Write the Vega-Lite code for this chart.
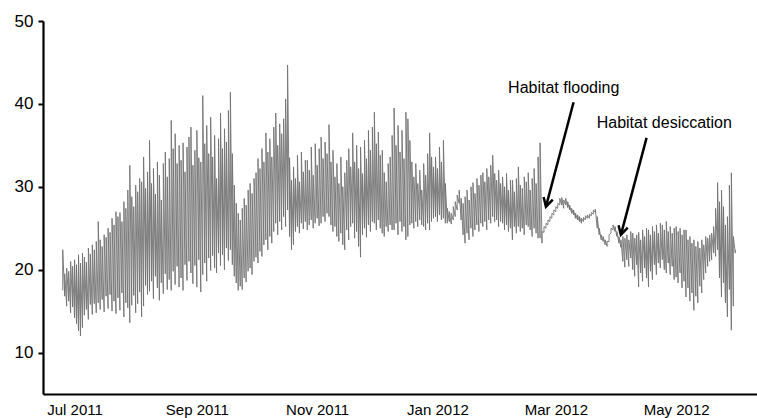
{
  "$schema": "https://vega.github.io/schema/vega-lite/v6.json",
  "width": 714,
  "height": 373,
  "autosize": "none",
  "padding": {"left": 43, "top": 21, "right": 0, "bottom": 24},
  "config": {
    "font": "Liberation Sans",
    "view": {"stroke": null},
    "axis": {"grid": false, "title": null, "labelColor": "#000", "labelFontSize": 15, "domainColor": "#000", "domainWidth": 2.2, "tickColor": "#000", "tickWidth": 2}
  },
  "datasets": {
    "temp": [
      {"d":"2011-06-25","a":17.5,"b":22.4},{"d":"2011-06-26","a":16.8,"b":19.5},{"d":"2011-06-27","a":15.6,"b":20.2},{"d":"2011-06-28","a":16.2,"b":19.8},{"d":"2011-06-29","a":14.8,"b":21.0},{"d":"2011-06-30","a":15.5,"b":20.4},
      {"d":"2011-07-01","a":14.2,"b":21.2},{"d":"2011-07-02","a":13.5,"b":20.6},{"d":"2011-07-03","a":12.6,"b":21.8},{"d":"2011-07-04","a":12.0,"b":20.8},{"d":"2011-07-05","a":13.0,"b":22.0},{"d":"2011-07-06","a":14.5,"b":21.5},{"d":"2011-07-07","a":15.2,"b":20.9},{"d":"2011-07-08","a":14.0,"b":22.6},{"d":"2011-07-09","a":15.8,"b":21.9},{"d":"2011-07-10","a":14.6,"b":23.0},
      {"d":"2011-07-11","a":15.9,"b":22.4},{"d":"2011-07-12","a":14.8,"b":23.4},{"d":"2011-07-13","a":16.0,"b":25.8},{"d":"2011-07-14","a":15.2,"b":23.6},{"d":"2011-07-15","a":16.4,"b":22.8},{"d":"2011-07-16","a":14.9,"b":24.2},{"d":"2011-07-17","a":16.8,"b":23.9},{"d":"2011-07-18","a":15.3,"b":25.0},{"d":"2011-07-19","a":17.0,"b":24.5},{"d":"2011-07-20","a":15.0,"b":26.2},
      {"d":"2011-07-21","a":16.2,"b":25.4},{"d":"2011-07-22","a":14.7,"b":27.0},{"d":"2011-07-23","a":16.6,"b":26.4},{"d":"2011-07-24","a":15.1,"b":26.9},{"d":"2011-07-25","a":17.2,"b":25.8},{"d":"2011-07-26","a":14.3,"b":28.2},{"d":"2011-07-27","a":16.0,"b":27.4},{"d":"2011-07-28","a":15.4,"b":29.6},{"d":"2011-07-29","a":13.6,"b":32.6},{"d":"2011-07-30","a":15.7,"b":28.8},{"d":"2011-07-31","a":16.9,"b":27.6},
      {"d":"2011-08-01","a":14.8,"b":30.2},{"d":"2011-08-02","a":15.9,"b":29.4},{"d":"2011-08-03","a":17.3,"b":31.0},{"d":"2011-08-04","a":14.3,"b":30.6},{"d":"2011-08-05","a":15.6,"b":33.6},{"d":"2011-08-06","a":18.1,"b":29.8},{"d":"2011-08-07","a":17.0,"b":31.8},{"d":"2011-08-08","a":17.4,"b":35.6},{"d":"2011-08-09","a":18.6,"b":30.4},{"d":"2011-08-10","a":16.5,"b":32.2},
      {"d":"2011-08-11","a":19.2,"b":29.1},{"d":"2011-08-12","a":17.8,"b":33.0},{"d":"2011-08-13","a":16.3,"b":31.4},{"d":"2011-08-14","a":18.4,"b":28.4},{"d":"2011-08-15","a":17.1,"b":32.8},{"d":"2011-08-16","a":19.5,"b":34.2},{"d":"2011-08-17","a":17.6,"b":31.2},{"d":"2011-08-18","a":18.8,"b":33.4},{"d":"2011-08-19","a":17.5,"b":38.0},{"d":"2011-08-20","a":19.8,"b":34.6},
      {"d":"2011-08-21","a":18.2,"b":36.4},{"d":"2011-08-22","a":20.4,"b":32.8},{"d":"2011-08-23","a":17.9,"b":35.0},{"d":"2011-08-24","a":19.0,"b":33.2},{"d":"2011-08-25","a":17.5,"b":35.3},{"d":"2011-08-26","a":20.6,"b":31.8},{"d":"2011-08-27","a":18.7,"b":34.8},{"d":"2011-08-28","a":21.0,"b":36.0},{"d":"2011-08-29","a":19.6,"b":37.2},{"d":"2011-08-30","a":18.3,"b":32.6},{"d":"2011-08-31","a":20.5,"b":34.4},
      {"d":"2011-09-01","a":17.9,"b":36.8},{"d":"2011-09-02","a":21.2,"b":33.5},{"d":"2011-09-03","a":17.3,"b":33.0},{"d":"2011-09-04","a":19.4,"b":41.0},{"d":"2011-09-05","a":20.8,"b":35.2},{"d":"2011-09-06","a":18.6,"b":37.4},{"d":"2011-09-07","a":21.4,"b":34.0},{"d":"2011-09-08","a":19.9,"b":38.4},{"d":"2011-09-09","a":21.7,"b":33.6},{"d":"2011-09-10","a":20.2,"b":36.2},
      {"d":"2011-09-11","a":19.6,"b":31.0},{"d":"2011-09-12","a":22.0,"b":35.8},{"d":"2011-09-13","a":20.5,"b":38.9},{"d":"2011-09-14","a":21.8,"b":34.6},{"d":"2011-09-15","a":20.0,"b":37.0},{"d":"2011-09-16","a":22.6,"b":35.4},{"d":"2011-09-17","a":21.1,"b":39.2},{"d":"2011-09-18","a":22.4,"b":41.4},{"d":"2011-09-19","a":20.6,"b":34.0},{"d":"2011-09-20","a":19.2,"b":30.2},
      {"d":"2011-09-21","a":18.4,"b":28.0},{"d":"2011-09-22","a":17.5,"b":26.8},{"d":"2011-09-23","a":18.0,"b":26.0},{"d":"2011-09-24","a":17.6,"b":27.4},{"d":"2011-09-25","a":19.0,"b":28.6},{"d":"2011-09-26","a":18.5,"b":27.8},{"d":"2011-09-27","a":19.8,"b":29.6},{"d":"2011-09-28","a":20.2,"b":30.4},{"d":"2011-09-29","a":19.4,"b":29.2},{"d":"2011-09-30","a":21.0,"b":31.0},
      {"d":"2011-10-01","a":21.5,"b":31.7},{"d":"2011-10-02","a":20.8,"b":33.4},{"d":"2011-10-03","a":22.2,"b":32.2},{"d":"2011-10-04","a":21.6,"b":34.6},{"d":"2011-10-05","a":23.0,"b":33.0},{"d":"2011-10-06","a":23.6,"b":36.5},{"d":"2011-10-07","a":22.4,"b":34.2},{"d":"2011-10-08","a":24.0,"b":35.8},{"d":"2011-10-09","a":23.2,"b":33.6},{"d":"2011-10-10","a":24.6,"b":37.2},
      {"d":"2011-10-11","a":25.6,"b":38.9},{"d":"2011-10-12","a":24.2,"b":35.0},{"d":"2011-10-13","a":25.8,"b":37.6},{"d":"2011-10-14","a":24.8,"b":36.4},{"d":"2011-10-15","a":26.4,"b":38.2},{"d":"2011-10-16","a":25.2,"b":40.6},{"d":"2011-10-17","a":27.2,"b":44.7},{"d":"2011-10-18","a":24.0,"b":33.5},{"d":"2011-10-19","a":22.4,"b":30.8},{"d":"2011-10-20","a":23.0,"b":32.4},
      {"d":"2011-10-21","a":24.6,"b":31.0},{"d":"2011-10-22","a":25.2,"b":33.8},{"d":"2011-10-23","a":24.4,"b":30.6},{"d":"2011-10-24","a":25.6,"b":34.2},{"d":"2011-10-25","a":24.9,"b":31.8},{"d":"2011-10-26","a":25.8,"b":33.2},{"d":"2011-10-27","a":24.8,"b":33.2},{"d":"2011-10-28","a":25.4,"b":32.0},{"d":"2011-10-29","a":26.0,"b":34.8},{"d":"2011-10-30","a":25.0,"b":31.4},{"d":"2011-10-31","a":25.6,"b":35.2},
      {"d":"2011-11-01","a":26.2,"b":32.6},{"d":"2011-11-02","a":25.3,"b":34.6},{"d":"2011-11-03","a":25.6,"b":36.0},{"d":"2011-11-04","a":26.4,"b":33.4},{"d":"2011-11-05","a":25.8,"b":35.4},{"d":"2011-11-06","a":26.8,"b":34.0},{"d":"2011-11-07","a":26.4,"b":37.5},{"d":"2011-11-08","a":25.4,"b":33.0},{"d":"2011-11-09","a":24.6,"b":34.4},{"d":"2011-11-10","a":25.2,"b":31.2},
      {"d":"2011-11-11","a":24.0,"b":32.8},{"d":"2011-11-12","a":23.4,"b":30.4},{"d":"2011-11-13","a":24.4,"b":33.6},{"d":"2011-11-14","a":23.0,"b":30.0},{"d":"2011-11-15","a":22.4,"b":31.7},{"d":"2011-11-16","a":24.8,"b":33.2},{"d":"2011-11-17","a":23.6,"b":34.6},{"d":"2011-11-18","a":25.2,"b":32.4},{"d":"2011-11-19","a":25.6,"b":36.5},{"d":"2011-11-20","a":23.8,"b":33.0},
      {"d":"2011-11-21","a":24.6,"b":35.0},{"d":"2011-11-22","a":22.8,"b":32.2},{"d":"2011-11-23","a":21.5,"b":34.8},{"d":"2011-11-24","a":24.2,"b":31.6},{"d":"2011-11-25","a":25.0,"b":35.6},{"d":"2011-11-26","a":23.9,"b":33.4},{"d":"2011-11-27","a":25.4,"b":36.8},{"d":"2011-11-28","a":24.6,"b":34.4},{"d":"2011-11-29","a":25.8,"b":37.2},{"d":"2011-11-30","a":25.6,"b":39.0},
      {"d":"2011-12-01","a":24.8,"b":35.2},{"d":"2011-12-02","a":26.0,"b":36.6},{"d":"2011-12-03","a":25.0,"b":33.8},{"d":"2011-12-04","a":24.4,"b":34.4},{"d":"2011-12-05","a":24.0,"b":31.7},{"d":"2011-12-06","a":25.2,"b":30.6},{"d":"2011-12-07","a":24.6,"b":32.8},{"d":"2011-12-08","a":25.4,"b":33.6},{"d":"2011-12-09","a":24.8,"b":36.2},{"d":"2011-12-10","a":24.8,"b":39.5},
      {"d":"2011-12-11","a":25.6,"b":35.0},{"d":"2011-12-12","a":24.2,"b":37.4},{"d":"2011-12-13","a":25.8,"b":34.2},{"d":"2011-12-14","a":24.6,"b":36.8},{"d":"2011-12-15","a":25.2,"b":33.4},{"d":"2011-12-16","a":23.6,"b":39.0},{"d":"2011-12-17","a":24.0,"b":38.2},{"d":"2011-12-18","a":25.4,"b":35.6},{"d":"2011-12-19","a":25.6,"b":33.0},{"d":"2011-12-20","a":25.0,"b":31.2},
      {"d":"2011-12-21","a":25.8,"b":32.8},{"d":"2011-12-22","a":25.2,"b":30.4},{"d":"2011-12-23","a":26.0,"b":32.0},{"d":"2011-12-24","a":25.4,"b":29.6},{"d":"2011-12-25","a":25.2,"b":32.8},{"d":"2011-12-26","a":24.8,"b":31.4},{"d":"2011-12-27","a":25.6,"b":34.0},{"d":"2011-12-28","a":24.8,"b":36.5},{"d":"2011-12-29","a":25.8,"b":33.6},{"d":"2011-12-30","a":26.2,"b":32.4},{"d":"2011-12-31","a":26.4,"b":33.6},
      {"d":"2012-01-01","a":25.8,"b":32.2},{"d":"2012-01-02","a":26.6,"b":34.8},{"d":"2012-01-03","a":26.0,"b":33.0},{"d":"2012-01-04","a":26.2,"b":35.6},{"d":"2012-01-05","a":25.6,"b":30.4},{"d":"2012-01-06","a":25.6,"b":27.4},{"d":"2012-01-07","a":25.8,"b":27.0},{"d":"2012-01-08","a":25.5,"b":26.8},{"d":"2012-01-09","a":26.0,"b":27.6},{"d":"2012-01-10","a":26.4,"b":28.2},
      {"d":"2012-01-11","a":27.2,"b":29.0},{"d":"2012-01-12","a":28.0,"b":29.6},{"d":"2012-01-13","a":26.0,"b":28.6},{"d":"2012-01-14","a":24.2,"b":28.0},{"d":"2012-01-15","a":23.2,"b":28.8},{"d":"2012-01-16","a":24.4,"b":29.6},{"d":"2012-01-17","a":23.6,"b":28.4},{"d":"2012-01-18","a":25.0,"b":30.0},{"d":"2012-01-19","a":24.0,"b":30.5},{"d":"2012-01-20","a":24.8,"b":29.2},
      {"d":"2012-01-21","a":25.4,"b":31.0},{"d":"2012-01-22","a":24.6,"b":30.2},{"d":"2012-01-23","a":25.6,"b":31.4},{"d":"2012-01-24","a":25.2,"b":31.7},{"d":"2012-01-25","a":25.8,"b":30.6},{"d":"2012-01-26","a":24.8,"b":32.2},{"d":"2012-01-27","a":26.0,"b":31.2},{"d":"2012-01-28","a":25.6,"b":32.6},{"d":"2012-01-29","a":26.4,"b":33.8},{"d":"2012-01-30","a":25.8,"b":31.6},{"d":"2012-01-31","a":26.0,"b":30.8},
      {"d":"2012-02-01","a":25.2,"b":32.0},{"d":"2012-02-02","a":25.8,"b":30.4},{"d":"2012-02-03","a":25.6,"b":31.2},{"d":"2012-02-04","a":24.8,"b":30.0},{"d":"2012-02-05","a":25.4,"b":31.6},{"d":"2012-02-06","a":24.6,"b":29.6},{"d":"2012-02-07","a":25.0,"b":30.8},{"d":"2012-02-08","a":23.6,"b":30.8},{"d":"2012-02-09","a":25.2,"b":29.4},{"d":"2012-02-10","a":24.4,"b":31.0},
      {"d":"2012-02-11","a":25.2,"b":32.4},{"d":"2012-02-12","a":24.6,"b":30.2},{"d":"2012-02-13","a":25.0,"b":29.8},{"d":"2012-02-14","a":24.2,"b":31.2},{"d":"2012-02-15","a":25.4,"b":30.6},{"d":"2012-02-16","a":25.2,"b":31.7},{"d":"2012-02-17","a":24.8,"b":29.6},{"d":"2012-02-18","a":24.0,"b":31.0},{"d":"2012-02-19","a":25.0,"b":32.2},{"d":"2012-02-20","a":24.4,"b":30.4},
      {"d":"2012-02-21","a":23.8,"b":33.6},{"d":"2012-02-22","a":23.8,"b":35.3},{"d":"2012-02-23","a":23.2,"b":24.6},{"d":"2012-02-24","a":24.5,"b":25.2},{"d":"2012-02-25","a":25.0,"b":25.6},{"d":"2012-02-26","a":25.4,"b":26.0},{"d":"2012-02-27","a":25.8,"b":26.4},{"d":"2012-02-28","a":26.2,"b":26.8},{"d":"2012-02-29","a":26.6,"b":27.2},
      {"d":"2012-03-01","a":27.0,"b":27.6},{"d":"2012-03-02","a":27.4,"b":28.0},{"d":"2012-03-03","a":27.8,"b":28.6},{"d":"2012-03-04","a":27.8,"b":28.7},{"d":"2012-03-05","a":27.4,"b":28.4},{"d":"2012-03-06","a":27.8,"b":28.6},{"d":"2012-03-07","a":27.5,"b":28.2},{"d":"2012-03-08","a":27.2,"b":27.8},{"d":"2012-03-09","a":26.8,"b":27.4},{"d":"2012-03-10","a":26.6,"b":27.2},
      {"d":"2012-03-11","a":26.2,"b":26.8},{"d":"2012-03-12","a":26.0,"b":26.6},{"d":"2012-03-13","a":25.8,"b":26.4},{"d":"2012-03-14","a":25.6,"b":26.2},{"d":"2012-03-15","a":25.8,"b":26.3},{"d":"2012-03-16","a":26.0,"b":26.5},{"d":"2012-03-17","a":26.2,"b":26.6},{"d":"2012-03-18","a":26.2,"b":26.7},{"d":"2012-03-19","a":26.5,"b":26.9},{"d":"2012-03-20","a":26.7,"b":27.2},
      {"d":"2012-03-21","a":26.9,"b":27.3},{"d":"2012-03-22","a":25.0,"b":26.4},{"d":"2012-03-23","a":24.2,"b":25.0},{"d":"2012-03-24","a":23.6,"b":24.2},{"d":"2012-03-25","a":23.4,"b":24.0},{"d":"2012-03-26","a":23.0,"b":23.6},{"d":"2012-03-27","a":22.8,"b":23.4},{"d":"2012-03-28","a":23.4,"b":24.2},{"d":"2012-03-29","a":24.4,"b":25.0},{"d":"2012-03-30","a":24.8,"b":25.4},{"d":"2012-03-31","a":24.6,"b":25.2},
      {"d":"2012-04-01","a":24.0,"b":24.6},{"d":"2012-04-02","a":23.2,"b":24.0},{"d":"2012-04-03","a":22.7,"b":23.6},{"d":"2012-04-04","a":21.0,"b":24.0},{"d":"2012-04-05","a":20.3,"b":23.8},{"d":"2012-04-06","a":21.2,"b":24.2},{"d":"2012-04-07","a":20.4,"b":23.6},{"d":"2012-04-08","a":21.4,"b":24.6},{"d":"2012-04-09","a":20.0,"b":24.4},{"d":"2012-04-10","a":19.2,"b":23.8},
      {"d":"2012-04-11","a":20.6,"b":24.2},{"d":"2012-04-12","a":17.9,"b":24.5},{"d":"2012-04-13","a":19.6,"b":23.6},{"d":"2012-04-14","a":18.6,"b":24.8},{"d":"2012-04-15","a":20.2,"b":24.0},{"d":"2012-04-16","a":19.0,"b":25.0},{"d":"2012-04-17","a":17.9,"b":24.8},{"d":"2012-04-18","a":19.8,"b":24.2},{"d":"2012-04-19","a":18.8,"b":25.2},{"d":"2012-04-20","a":20.6,"b":24.6},
      {"d":"2012-04-21","a":19.4,"b":25.4},{"d":"2012-04-22","a":20.8,"b":24.4},{"d":"2012-04-23","a":20.2,"b":25.6},{"d":"2012-04-24","a":21.2,"b":25.4},{"d":"2012-04-25","a":20.0,"b":24.8},{"d":"2012-04-26","a":19.6,"b":25.8},{"d":"2012-04-27","a":20.8,"b":24.6},{"d":"2012-04-28","a":19.4,"b":25.2},{"d":"2012-04-29","a":20.4,"b":24.4},{"d":"2012-04-30","a":18.8,"b":25.0},
      {"d":"2012-05-01","a":19.1,"b":25.2},{"d":"2012-05-02","a":18.4,"b":24.6},{"d":"2012-05-03","a":19.6,"b":25.0},{"d":"2012-05-04","a":17.8,"b":24.2},{"d":"2012-05-05","a":18.6,"b":24.8},{"d":"2012-05-06","a":16.7,"b":24.8},{"d":"2012-05-07","a":17.8,"b":23.6},{"d":"2012-05-08","a":16.2,"b":24.0},{"d":"2012-05-09","a":17.2,"b":23.2},{"d":"2012-05-10","a":15.1,"b":23.6},
      {"d":"2012-05-11","a":16.8,"b":22.8},{"d":"2012-05-12","a":16.0,"b":23.4},{"d":"2012-05-13","a":18.0,"b":22.6},{"d":"2012-05-14","a":17.2,"b":23.6},{"d":"2012-05-15","a":18.8,"b":23.0},{"d":"2012-05-16","a":19.6,"b":24.0},{"d":"2012-05-17","a":20.4,"b":23.8},{"d":"2012-05-18","a":21.0,"b":24.2},{"d":"2012-05-19","a":21.2,"b":24.4},{"d":"2012-05-20","a":22.0,"b":25.2},
      {"d":"2012-05-21","a":21.6,"b":27.4},{"d":"2012-05-22","a":22.4,"b":30.5},{"d":"2012-05-23","a":19.0,"b":28.2},{"d":"2012-05-24","a":16.7,"b":29.6},{"d":"2012-05-25","a":18.4,"b":27.6},{"d":"2012-05-26","a":16.0,"b":25.4},{"d":"2012-05-27","a":14.3,"b":26.4},{"d":"2012-05-28","a":17.6,"b":30.2},{"d":"2012-05-29","a":12.7,"b":31.7},{"d":"2012-05-30","a":15.6,"b":24.0},{"d":"2012-05-31","a":22.0,"b":22.4}
    ],
    "notes": [
      {"d":"2012-03-05","v":41.9,"t":"Habitat flooding"},
      {"d":"2012-04-25","v":37.7,"t":"Habitat desiccation"}
    ],
    "arrows": [
      {"d":"2012-03-10","v":40.2,"d2":"2012-02-25","v2":27.6},
      {"d":"2012-04-16","v":35.9,"d2":"2012-04-03","v2":24.2}
    ]
  },
  "layer": [
    {
      "data": {"name": "temp"},
      "transform": [{"fold": ["a", "b"], "as": ["k", "val"]}],
      "mark": {"type": "line", "stroke": "#707070", "strokeWidth": 0.9, "interpolate": "linear"},
      "encoding": {
        "x": {
          "field": "d", "type": "temporal",
          "scale": {"type": "utc", "domain": [{"year": 2011, "month": 6, "date": 15, "utc": true}, {"year": 2012, "month": 6, "date": 11, "utc": true}]},
          "axis": {
            "format": "%b %Y", "ticks": false, "labelPadding": 8,
            "values": [
              {"year": 2011, "month": 7, "date": 1, "utc": true},
              {"year": 2011, "month": 9, "date": 1, "utc": true},
              {"year": 2011, "month": 11, "date": 1, "utc": true},
              {"year": 2012, "month": 1, "date": 1, "utc": true},
              {"year": 2012, "month": 3, "date": 1, "utc": true},
              {"year": 2012, "month": 5, "date": 1, "utc": true}
            ]
          }
        },
        "y": {
          "field": "val", "type": "quantitative",
          "scale": {"domain": [5, 50], "nice": false, "zero": false},
          "axis": {"values": [10, 20, 30, 40, 50], "tickSize": 5, "labelPadding": 5, "labelFontSize": 17}
        },
        "order": [{"field": "d", "type": "temporal"}, {"field": "k"}]
      }
    },
    {
      "data": {"name": "arrows"},
      "mark": {"type": "rule", "stroke": "#000", "strokeWidth": 2.5},
      "encoding": {
        "x": {"field": "d", "type": "temporal"},
        "x2": {"field": "d2"},
        "y": {"field": "v", "type": "quantitative"},
        "y2": {"field": "v2"}
      }
    },
    {
      "data": {"name": "arrows"},
      "mark": {"type": "point", "shape": "M-0.55,-1L0,0L0.55,-1", "filled": false, "stroke": "#000", "strokeWidth": 2.5, "size": 300, "angle": 15, "opacity": 1},
      "encoding": {
        "x": {"field": "d2", "type": "temporal"},
        "y": {"field": "v2", "type": "quantitative"}
      }
    },
    {
      "data": {"name": "notes"},
      "mark": {"type": "text", "fontSize": 16, "color": "#000", "align": "center", "baseline": "middle"},
      "encoding": {
        "x": {"field": "d", "type": "temporal"},
        "y": {"field": "v", "type": "quantitative"},
        "text": {"field": "t"}
      }
    }
  ]
}
